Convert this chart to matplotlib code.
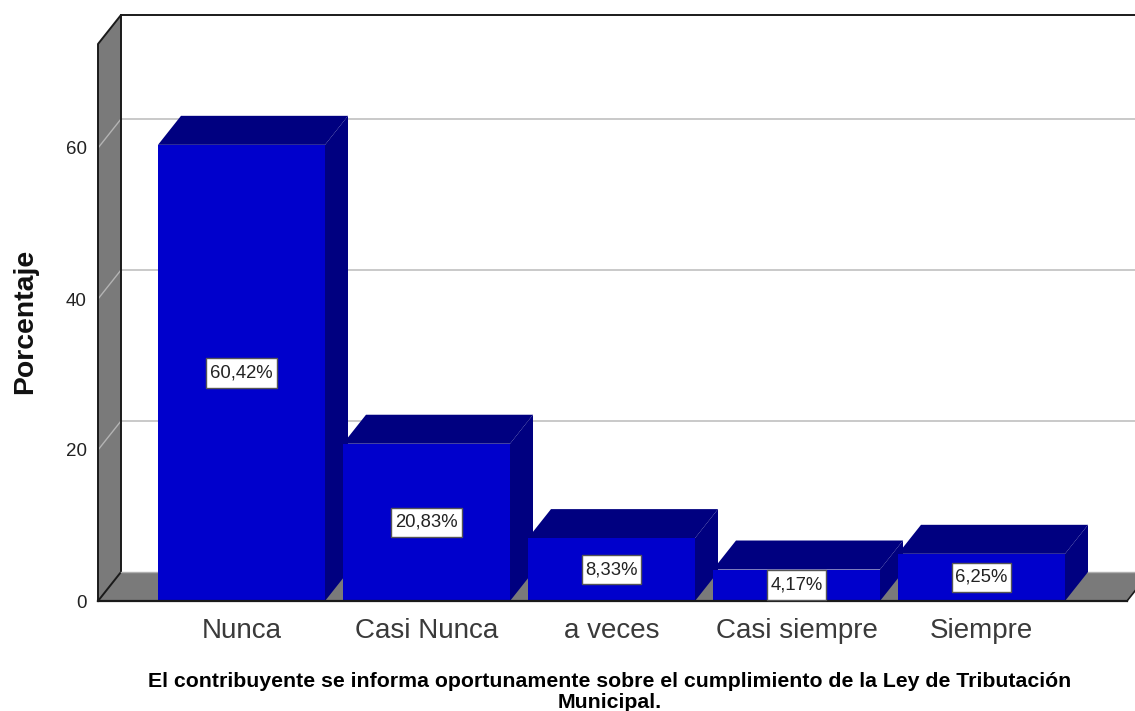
import matplotlib
matplotlib.use('Agg')
import matplotlib.pyplot as plt
from matplotlib.patches import Polygon

categories = ['Nunca', 'Casi Nunca', 'a veces', 'Casi siempre', 'Siempre']
values = [60.42, 20.83, 8.33, 4.17, 6.25]
labels = ['60,42%', '20,83%', '8,33%', '4,17%', '6,25%']
yticks = [0, 20, 40, 60]
xlabel = ('El contribuyente se informa oportunamente sobre el cumplimiento de la Ley de Tributación\n'
          'Municipal.')

plt.rcParams['font.family'] = ['Liberation Sans', 'DejaVu Sans']

W, H = 1135, 711
fig = plt.figure(figsize=(W/100, H/100), dpi=100)
# front plane of the 3d box, in pixels
L, R, B, T = 98, 1127, 601, 44
ax = fig.add_axes([L/W, (H-B)/H, (R-L)/W, (B-T)/H])
px_x = 185.0
px_y = 7.55
ax.set_xlim((L-241.5)/px_x, (R-241.5)/px_x)
ax.set_ylim(0, (B-T)/px_y)
dx = 23/px_x
dy = 29/px_y
x0, x1 = ax.get_xlim()
y1 = ax.get_ylim()[1]
ax.patch.set_visible(False)
for s in ax.spines.values():
    s.set_visible(False)

wall = '#7A7A7A'
front = '#0000CC'
dark = '#000080'
grid = '#B4B4B4'

# floor and left wall
ax.add_patch(Polygon([(x0, 0), (x0+dx, dy), (x1+dx, dy), (x1, 0)], fc=wall, ec='none', clip_on=False))
ax.add_patch(Polygon([(x0, 0), (x0+dx, dy), (x0+dx, y1+dy), (x0, y1)], fc=wall, ec='none', clip_on=False))
# gridlines on the walls
for v in yticks[1:]:
    ax.plot([x0, x0+dx, x1+dx], [v, v+dy, v+dy], color=grid, lw=1, clip_on=False, zorder=1.5)
# outlines
ax.plot([x0, x0, x0+dx, x0+dx, x0], [0, y1, y1+dy, dy, 0], color='#1a1a1a', lw=1.4, clip_on=False, zorder=1.6)
ax.plot([x0+dx, x1+dx], [y1+dy, y1+dy], color='#1a1a1a', lw=1.4, clip_on=False, zorder=1.6)
ax.plot([x0+dx, x1+dx], [dy, dy], color='#b0b0b0', lw=1, clip_on=False, zorder=1.6)
ax.plot([x1, x1+dx], [0, dy], color='#1a1a1a', lw=1.2, clip_on=False, zorder=1.6)

width = 167/px_x
for i, v in enumerate(values):
    xl = i - width/2
    xr = i + width/2
    z = 3 + i
    ax.add_patch(Polygon([(xl, v), (xl+dx, v+dy), (xr+dx, v+dy), (xr, v)], fc=dark, ec='none', zorder=z, clip_on=False))
    ax.add_patch(Polygon([(xr, 0), (xr+dx, dy), (xr+dx, v+dy), (xr, v)], fc=dark, ec='none', zorder=z, clip_on=False))
    ax.bar(i, v, width=width, color=front, zorder=z+0.1)
    ax.text(i, v/2, labels[i], ha='center', va='center', fontsize=13.3, color='#222222', zorder=20,
            bbox=dict(boxstyle='square,pad=0.2', mutation_aspect=1.7, fc='white', ec='#555555', lw=1.0))

ax.plot([x0, x1], [0, 0], color='#1a1a1a', lw=1.6, zorder=15, clip_on=False)

ax.set_xticks(range(len(categories)), categories, fontsize=20, color='#3a3a3a')
ax.set_yticks(yticks, [str(t) for t in yticks], fontsize=13.5, color='#222222')
ax.tick_params(axis='x', length=0, pad=12)
ax.tick_params(axis='y', length=0, pad=8)

fig.text(25/W, 1-321/H, 'Porcentaje', rotation=90, ha='center', va='center', fontsize=20.4, fontweight='bold', color='#111111')
fig.text(610/W, 1-692/H, xlabel, ha='center', va='center', fontsize=15.3, fontweight='bold', color='black', linespacing=1.1)

fig.savefig('out.png', dpi=100)
